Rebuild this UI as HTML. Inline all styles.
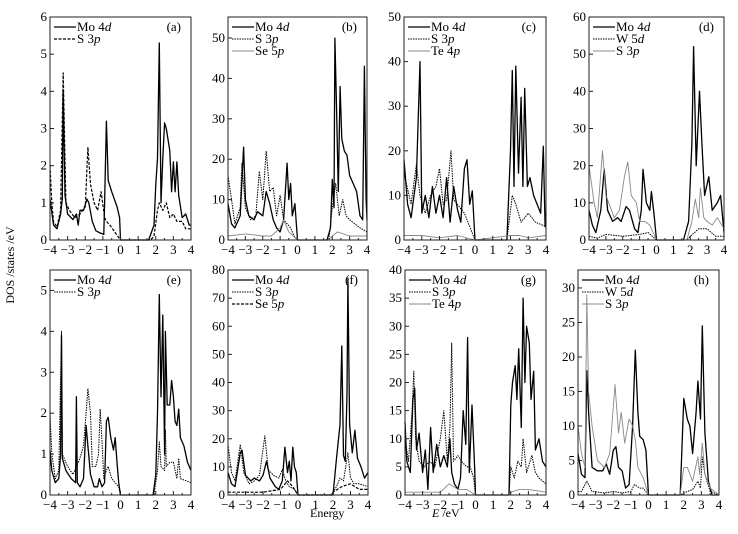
<!DOCTYPE html>
<html><head><meta charset="utf-8"><style>
body{margin:0;background:#fff}
svg{display:block}
svg text{font-family:"Liberation Serif","Times New Roman",serif}
</style></head><body>
<svg id="c" width="738" height="534" font-family="Liberation Serif, serif">
<text x="14" y="265" font-size="12" text-anchor="middle" transform="rotate(-90 14 265)">DOS /states /eV</text>
<text x="310" y="517" font-size="12">Energy</text>
<text x="432" y="517" font-size="12"><tspan font-style="italic">E</tspan> /eV</text>
</svg>
<script>
const energyTicks=[-4,-3,-2,-1,0,1,2,3,4];
const aMo=[[-4,1.1],[-3.8,0.4],[-3.6,0.3],[-3.4,0.7],[-3.3,1.1],[-3.25,4.0],[-3.15,1.2],[-3,0.7],[-2.7,0.55],[-2.5,0.7],[-2.4,0.4],[-2.3,0.8],[-2.1,0.8],[-1.9,1.1],[-1.8,1.0],[-1.6,0.5],[-1.4,0.25],[-1.2,0.2],[-0.95,0.15],[-0.9,1.0],[-0.8,3.2],[-0.7,1.6],[-0.5,1.3],[-0.2,0.9],[-0.05,0.6],[0,0],[1.6,0],[1.9,0.4],[2.0,1.5],[2.1,2.2],[2.2,5.3],[2.3,1.0],[2.4,2.2],[2.5,3.15],[2.6,3.0],[2.8,2.4],[2.9,1.3],[3.0,2.1],[3.1,1.3],[3.2,2.1],[3.3,1.2],[3.5,0.6],[3.7,0.7],[3.9,0.4],[4,0.4]];
const aS=[[-4,2.0],[-3.9,1.0],[-3.8,0.5],[-3.6,0.35],[-3.4,0.8],[-3.25,4.5],[-3.1,1.0],[-2.9,0.8],[-2.6,0.6],[-2.3,0.7],[-2.0,0.9],[-1.85,2.5],[-1.7,1.5],[-1.5,1.0],[-1.3,0.8],[-1.1,1.3],[-0.9,0.6],[-0.8,0.5],[-0.6,0.4],[-0.3,0.2],[0,0],[1.7,0],[1.9,0.1],[2.1,0.8],[2.2,1.0],[2.4,0.8],[2.6,1.0],[2.8,0.6],[3.0,0.7],[3.2,0.5],[3.5,0.5],[3.7,0.3],[4,0.3]];
const bMo=[[-4,9],[-3.8,4],[-3.6,3],[-3.3,6],[-3.1,23],[-3,10],[-2.8,6],[-2.5,5],[-2.3,7],[-2,6],[-1.8,12],[-1.6,9],[-1.4,5],[-1.2,3],[-1,2],[-0.8,5],[-0.6,19],[-0.5,10],[-0.4,14],[-0.3,6],[-0.15,9],[0,0],[1.7,0],[1.9,3],[2,15],[2.1,8],[2.15,50],[2.25,32],[2.35,12],[2.45,38],[2.55,25],[2.7,22],[2.85,21],[3,16],[3.2,14],[3.4,12],[3.6,6],[3.75,5],[3.85,43],[3.95,10],[4,5]];
const bS=[[-4,16],[-3.8,10],[-3.6,4],[-3.3,8],[-3.2,19],[-3.0,8],[-2.7,5],[-2.4,6],[-2.2,17],[-2.0,10],[-1.8,22],[-1.6,12],[-1.4,13],[-1.2,6],[-1.0,11],[-0.8,5],[-0.6,4],[-0.4,3],[-0.2,1],[0,0],[1.8,0],[2,8],[2.2,14],[2.4,6],[2.6,10],[2.8,6],[3,5],[3.3,4],[3.6,3],[4,2]];
const bSe=[[-4,1],[-3,1.5],[-2,1],[-1.5,1],[-1,3],[-0.8,5],[-0.5,2],[0,0],[1.8,0],[2,1],[2.3,2],[3,1],[4,1]];
const cMo=[[-4,18],[-3.8,8],[-3.6,5],[-3.3,14],[-3.1,40],[-3,6],[-2.8,10],[-2.6,5],[-2.4,12],[-2.2,6],[-2,10],[-1.8,5],[-1.6,14],[-1.4,4],[-1.2,12],[-1,7],[-0.8,4],[-0.6,16],[-0.45,18],[-0.3,8],[-0.15,11],[0,0],[1.8,0],[2,20],[2.1,38],[2.2,12],[2.3,39],[2.45,15],[2.6,32],[2.7,12],[2.8,34],[2.95,12],[3.1,14],[3.3,10],[3.5,8],[3.7,6],[3.85,21],[3.95,3],[4,6]];
const cS=[[-4,15],[-3.6,8],[-3.3,17],[-3.1,10],[-2.8,6],[-2.5,10],[-2.2,12],[-2,16],[-1.8,8],[-1.6,9],[-1.35,20],[-1.2,9],[-1,8],[-0.6,6],[-0.3,3],[0,0],[1.8,0],[2.1,10],[2.3,8],[2.6,4],[3,6],[3.4,4],[4,3]];
const cTe=[[-4,1],[-3,1],[-2,0.5],[-1,1],[0,0],[2,1],[2.5,1],[3,0.5],[4,1]];
const dMo=[[-4,8],[-3.8,4],[-3.6,2],[-3.3,8],[-3.1,19],[-2.9,8],[-2.6,5],[-2.3,6],[-2.1,5],[-1.8,9],[-1.6,8],[-1.3,3],[-1.1,2],[-0.9,8],[-0.8,19],[-0.6,10],[-0.4,8],[-0.3,13],[-0.15,7],[0,0],[1.6,0],[1.9,5],[2.1,26],[2.2,52],[2.35,20],[2.55,40],[2.7,25],[2.85,12],[3.1,17],[3.3,8],[3.6,10],[3.8,12],[4,2]];
const dW=[[-4,1],[-3.5,0.5],[-3,1.5],[-2,1],[-1,1.5],[-0.5,2],[0,0],[1.8,0],[2,1],[2.5,3],[3,3],[3.5,1],[4,1]];
const dS=[[-4,20],[-3.7,10],[-3.5,6],[-3.2,24],[-3,12],[-2.5,6],[-2.2,8],[-1.9,17],[-1.7,21],[-1.5,12],[-1.2,10],[-1,5],[-0.7,5],[-0.4,4],[0,0],[1.8,0],[2.1,5],[2.3,11],[2.5,6],[2.6,14],[2.8,6],[3,5],[3.3,4],[3.6,6],[4,3]];
const eMo=[[-4,1.1],[-3.9,0.6],[-3.7,0.3],[-3.5,0.4],[-3.4,1.0],[-3.35,3.9],[-3.3,0.9],[-3.1,0.6],[-2.8,0.4],[-2.55,0.3],[-2.5,2.4],[-2.45,0.3],[-2.3,0.2],[-2.1,0.4],[-1.95,1.7],[-1.85,1.2],[-1.7,0.5],[-1.5,0.2],[-1.3,0.2],[-1.2,0.4],[-1.05,0.2],[-0.9,0.3],[-0.8,1.8],[-0.7,1.9],[-0.55,1.4],[-0.4,1.1],[-0.3,1.4],[-0.2,0.8],[-0.1,0.3],[0,0],[1.85,0],[2.0,0.5],[2.1,2.0],[2.2,4.9],[2.3,2.4],[2.4,4.4],[2.5,1.0],[2.55,4.0],[2.65,2.2],[2.8,2.2],[2.9,2.8],[3.0,2.4],[3.1,1.8],[3.2,1.7],[3.3,2.1],[3.4,1.4],[3.6,1.2],[3.8,0.8],[4,0.6]];
const eS=[[-4,2.0],[-3.9,1.0],[-3.7,0.4],[-3.5,0.6],[-3.35,4.0],[-3.3,1.0],[-3,0.7],[-2.7,0.5],[-2.5,0.7],[-2.3,0.9],[-2.1,1.2],[-1.95,2.0],[-1.85,2.6],[-1.7,2.0],[-1.6,0.7],[-1.4,0.7],[-1.25,1.0],[-1.15,2.1],[-1.05,1.3],[-0.95,0.4],[-0.8,0.6],[-0.7,0.7],[-0.5,0.4],[-0.3,0.3],[-0.1,0.2],[0,0],[1.9,0],[2.1,0.6],[2.2,1.3],[2.3,0.7],[2.5,0.6],[2.55,1.6],[2.6,0.7],[2.8,0.8],[3.0,0.8],[3.2,0.4],[3.3,0.9],[3.4,0.4],[3.7,0.35],[4,0.3]];
const fMo=[[-4,8],[-3.8,4],[-3.6,3],[-3.3,15],[-3.2,16],[-3.0,7],[-2.7,5],[-2.5,6],[-2.2,5],[-2.0,7],[-1.8,12],[-1.6,6],[-1.3,3],[-1.1,2],[-0.9,5],[-0.75,17],[-0.6,8],[-0.5,12],[-0.4,5],[-0.3,17],[-0.2,10],[-0.1,8],[0,0],[2.0,0],[2.2,13],[2.4,25],[2.5,53],[2.6,14],[2.7,12],[2.8,36],[2.85,77],[2.95,25],[3.1,15],[3.25,23],[3.4,13],[3.6,10],[3.8,6],[4,8]];
const fS=[[-4,18],[-3.8,8],[-3.6,5],[-3.3,18],[-3.1,8],[-2.8,4],[-2.5,5],[-2.2,7],[-1.9,21],[-1.7,9],[-1.4,7],[-1.1,6],[-0.9,9],[-0.7,5],[-0.5,3],[-0.2,2],[0,0],[1.9,0],[2.2,3],[2.4,6],[2.6,5],[2.85,15],[3.0,6],[3.2,4],[3.5,4],[4,3]];
const fSe=[[-4,1],[-2,1],[-1,2],[-0.6,5],[-0.3,3],[0,0],[1.9,0],[2,1],[2.5,3],[3,4],[3.5,2],[4,2]];
const gMo=[[-4,13],[-3.9,6],[-3.7,4],[-3.55,17],[-3.45,19],[-3.35,8],[-3.2,11],[-3.0,4],[-2.85,8],[-2.7,1],[-2.55,12],[-2.4,4],[-2.2,9],[-2.0,5],[-1.8,7],[-1.6,5],[-1.45,10],[-1.35,4],[-1.2,2],[-1.0,1],[-0.85,3],[-0.7,15],[-0.55,9],[-0.45,28],[-0.35,4],[-0.2,16],[-0.05,5],[0,0],[1.9,0],[2.0,16],[2.1,20],[2.25,23],[2.35,17],[2.45,26],[2.6,12],[2.7,35],[2.8,20],[2.9,30],[3.05,27],[3.15,17],[3.3,22],[3.4,8],[3.6,10],[3.8,6],[4,5]];
const gS=[[-4,10],[-3.8,6],[-3.6,15],[-3.5,22],[-3.4,10],[-3.2,6],[-2.9,5],[-2.6,6],[-2.3,5],[-2.0,10],[-1.8,15],[-1.6,6],[-1.45,12],[-1.35,27],[-1.25,6],[-1.0,7],[-0.8,6],[-0.5,5],[-0.3,5],[-0.1,3],[0,0],[1.9,0],[2.0,5],[2.2,3],[2.4,6],[2.6,5],[2.7,10],[2.9,4],[3.2,7],[3.4,4],[3.6,3],[4,2]];
const gTe=[[-4,0.5],[-2,0.5],[-1.5,2],[-1,1],[-0.5,1],[0,0],[1.9,0],[2,0.5],[2.5,1],[3,1],[4,0.5]];
const hMo=[[-4,6],[-3.8,3],[-3.6,2.5],[-3.5,18],[-3.4,12],[-3.2,4],[-2.9,3.5],[-2.6,3.5],[-2.4,4.5],[-2.2,3],[-2.0,6.5],[-1.85,7],[-1.7,4],[-1.5,3.5],[-1.3,1],[-1.1,1.5],[-0.9,10],[-0.75,21],[-0.6,12],[-0.5,8.5],[-0.3,8],[-0.15,6.5],[0,0],[1.8,0],[2.0,14],[2.2,11],[2.35,10],[2.5,6],[2.7,12],[2.8,16.5],[2.95,11],[3.05,24.5],[3.2,9],[3.4,2],[3.6,0],[4,0]];
const hW=[[-4,0.5],[-3.8,0.5],[-3.5,2],[-3.2,0.5],[-2.5,0.3],[-2.0,0.5],[-1.5,0.3],[-1.0,0.5],[-0.8,1.5],[-0.5,1],[-0.3,1],[0,0],[1.8,0],[2.2,0.5],[2.5,0.8],[2.8,2],[2.95,1],[3.05,5.5],[3.2,3],[3.5,0.5],[4,0]];
const hS=[[-4,10],[-3.8,6],[-3.6,4],[-3.5,29],[-3.4,15],[-3.2,10],[-2.9,5],[-2.5,4],[-2.2,6],[-1.9,16],[-1.7,9],[-1.55,12],[-1.35,7.5],[-1.1,11],[-0.9,10],[-0.75,8],[-0.6,4],[-0.3,2.5],[0,0],[1.8,0],[2.0,4],[2.2,4],[2.5,2],[2.8,5.5],[2.9,3],[3.05,7.5],[3.2,3],[3.5,1],[4,0]];

const SOLID={c:'#000',w:1.3,d:''},DOT={c:'#000',w:1.0,d:'1.5 1'},DASH={c:'#000',w:1.2,d:'3 1.5'},GRAY={c:'#888',w:0.9,d:''};
const panels=[
 {id:'a',x0:50,x1:191,y0:17,y1:240,ymax:6,ticks:[0,1,2,3,4,5,6],series:[['Mo 4','d',aMo,SOLID],['S 3','p',aS,DASH]]},
 {id:'b',x0:228,x1:367,y0:17,y1:240,ymax:55.2,ticks:[0,10,20,30,40,50],series:[['Mo 4','d',bMo,SOLID],['S 3','p',bS,DOT],['Se 5','p',bSe,GRAY]]},
 {id:'c',x0:404,x1:546,y0:17,y1:240,ymax:50,ticks:[0,10,20,30,40,50],series:[['Mo 4','d',cMo,SOLID],['S 3','p',cS,DOT],['Te 4','p',cTe,GRAY]]},
 {id:'d',x0:589,x1:724,y0:17,y1:240,ymax:60,ticks:[0,10,20,30,40,50,60],series:[['Mo 4','d',dMo,SOLID],['W 5','d',dW,DOT],['S 3','p',dS,GRAY]]},
 {id:'e',x0:50,x1:191,y0:270,y1:495,ymax:5.5,ticks:[0,1,2,3,4,5],series:[['Mo 4','d',eMo,SOLID],['S 3','p',eS,DOT]]},
 {id:'f',x0:228,x1:368,y0:270,y1:495,ymax:80,ticks:[0,10,20,30,40,50,60,70,80],series:[['Mo 4','d',fMo,SOLID],['S 3','p',fS,DOT],['Se 5','p',fSe,DASH]]},
 {id:'g',x0:405,x1:546,y0:270,y1:495,ymax:40,ticks:[0,5,10,15,20,25,30,35,40],series:[['Mo 4','d',gMo,SOLID],['S 3','p',gS,DOT],['Te 4','p',gTe,GRAY]]},
 {id:'h',x0:578,x1:719,y0:270,y1:495,ymax:32.6,ticks:[0,5,10,15,20,25,30],series:[['Mo 4','d',hMo,SOLID],['W 5','d',hW,DOT],['S 3','p',hS,GRAY]]}
];
const NS='http://www.w3.org/2000/svg',svg=document.getElementById('c');
function mk(t,a,p){const e=document.createElementNS(NS,t);for(const k in a)e.setAttribute(k,a[k]);(p||svg).appendChild(e);return e;}
const FF='Liberation Serif, Times New Roman, serif';
panels.forEach(P=>{
 const g=mk('g',{});
 
 
 const X=v=>P.x0+(v+4)/8*(P.x1-P.x0), Y=v=>P.y1-v/P.ymax*(P.y1-P.y0);
 P.series.forEach((s,i)=>{
  const pl=mk('polyline',{points:s[2].map(p=>X(p[0]).toFixed(1)+','+Y(Math.min(p[1],P.ymax)).toFixed(1)).join(' '),fill:'none',stroke:s[3].c,'stroke-width':s[3].w,'stroke-dasharray':s[3].d,'stroke-linejoin':'round'},g);
  
  
 });
 const fr=mk('rect',{x:P.x0,y:P.y0,width:P.x1-P.x0,height:P.y1-P.y0,fill:'none',stroke:'#222','stroke-width':1},g);
 
 
 energyTicks.forEach(t=>{
  mk('line',{x1:X(t),x2:X(t),y1:P.y1,y2:P.y1-4,stroke:'#222'},g);
  if(t<4) mk('line',{x1:X(t+0.5),x2:X(t+0.5),y1:P.y1,y2:P.y1-2,stroke:'#222'},g);
  const tx=mk('text',{x:X(t),y:P.y1+14,'font-size':13,'text-anchor':'middle','font-family':FF},g);
  tx.textContent=t<0?'\u2212'+(-t):t;
  
  
 });
 P.ticks.forEach(t=>{
  mk('line',{x1:P.x0,x2:P.x0+4,y1:Y(t),y2:Y(t),stroke:'#222'},g);
  const ty=mk('text',{x:P.x0-3,y:Y(t)+4,'font-size':13,'text-anchor':'end','font-family':FF},g);
  ty.textContent=t;
  
  
 });
 P.series.forEach((s,i)=>{
  const ly=P.y0+10+i*12;
  mk('line',{x1:P.x0+4,x2:P.x0+26,y1:ly,y2:ly,stroke:s[3].c,'stroke-width':s[3].w,'stroke-dasharray':s[3].d},g);
  const lt=mk('text',{x:P.x0+27,y:ly+4,'font-size':13,'font-family':FF},g);
  lt.textContent=s[0];
  const ts=mk('tspan',{'font-style':'italic'},lt);ts.textContent=s[1];
  
  
 });
 const pl=mk('text',{x:P.x1-10,y:P.y0+14,'font-size':13,'text-anchor':'end','font-family':FF},g);
 pl.textContent='('+P.id+')';
 
 
});
</script>
</body></html>
